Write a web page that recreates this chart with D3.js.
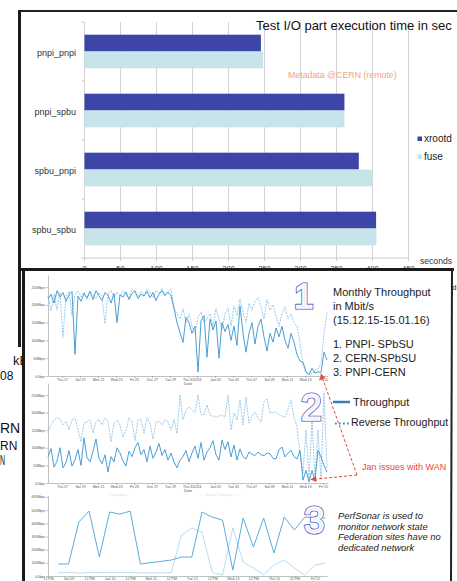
<!DOCTYPE html>
<html>
<head>
<meta charset="utf-8">
<script src="https://cdn.jsdelivr.net/npm/d3@7"></script>
<style>
body{margin:0;background:#fff}
svg{display:block;font-family:"Liberation Sans",Arial,sans-serif}
</style>
</head>
<body>
<script>
// ---------- bar chart data (seconds) ----------
const categories = ['pnpi_pnpi', 'pnpi_spbu', 'spbu_pnpi', 'spbu_spbu'];
const seriesNames = ['xrootd', 'fuse'];
const xrootdTimes = [245, 361, 381, 405];
const fuseTimes = [248, 361, 400, 405.5];
const secondTicks = [0, 50, 100, 150, 200, 250, 300, 350, 400, 450];

// ---------- monthly throughput (Mbit/s), one sample every 8 hours ----------
const pnpiSpbuThroughput = [216,230,205,240,222,235,210,228,238,61,
  225,210,232,220,238,215,240,226,212,235,228,205,232,150,
  228,222,236,215,232,240,218,230,225,238,220,235,212,230,240,226,236,225,
  190,150,122,94,165,150,120,140,11,155,170,53,160,130,155,50,150,125,145,100,
  140,86,197,120,67,120,150,90,140,160,110,70,120,95,135,110,140,100,78,120,
  95,60,42,39,12,3,22,8,12,10,67,45];
const pnpiSpbuReverse = [225,183,230,185,235,108,225,238,170,230,
  240,222,235,215,238,228,218,235,225,147,230,240,220,236,
  225,240,230,218,245,232,222,238,228,245,235,220,240,232,246,228,238,245,
  192,175,160,189,150,175,140,120,165,180,150,160,175,140,190,160,130,175,192,140,
  197,170,216,180,150,205,185,210,220,195,160,215,185,200,170,140,175,195,160,175,
  150,140,95,30,8,12,5,15,20,35,120,178];
const cernSpbuThroughput = [74,98,45,62,100,43,58,92,48,66,95,50,128,72,60,90,125,70,55,80,
  31,75,60,100,85,62,48,90,75,100,115,80,95,60,105,70,88,112,78,95,
  65,85,60,43,65,75,92,60,85,105,70,115,65,88,100,120,80,65,122,95,
  117,74,108,65,97,75,68,88,82,78,88,80,78,85,83,70,68,95,102,74,
  85,93,75,68,93,8,36,3,36,8,93,74,50,31];
const cernSpbuReverse = [142,165,179,185,182,165,175,151,179,185,151,117,170,173,179,142,173,180,165,185,
  175,117,170,179,165,130,150,185,175,120,180,180,142,185,170,125,173,175,165,180,
  175,150,180,140,250,180,207,216,207,200,250,195,193,222,193,190,187,190,193,187,
  250,151,199,179,236,165,244,170,190,202,185,173,230,240,199,200,202,195,190,187,
  210,236,187,160,85,28,151,9,179,9,151,9,256,40];
const throughputTicks = [0, 50, 100, 150, 200, 250];
const throughputLabels = ['0.0bps', '50Mbps', '100Mbps', '150Mbps', '200Mbps', '250Mbps'];

// ---------- PerfSonar PNPI-CERN (hours after 8 Jan 12:00) ----------
const perfHours = [6,12,18,24,30,36,42,48,54,72,78,84,90,96,102,108,114,120,126,132,138,144,150,162];
const perfThroughput = [91,91,409,492,144,485,470,492,91,121,144,144,485,447,424,45,440,220,440,174,447,349,447,440];
const perfReverseHours = [6,12,18,24,30,36,42,48,54,72,78,84,90,96,102,108,114,120,126,132,138,144,150,156,162];
const perfReverse = [25,28,22,27,25,28,26,27,24,25,310,364,333,25,8,364,106,60,8,83,121,60,8,83,98];
const perfTicks = [0, 100, 200, 300, 400, 500, 600];
const perfLabels = ['0.0bps', '100Mbps', '200Mbps', '300Mbps', '400Mbps', '500Mbps', '600Mbps'];

const W = 457, H = 581;
const svg = d3.select('body').append('svg').attr('width', W).attr('height', H);
svg.append('rect').attr('width', W).attr('height', H).attr('fill', '#fff');

// fragments of the slide underneath (only the visible parts)
const frag = svg.append('g').attr('fill', '#111');
frag.append('text').attr('x', 13).attr('y', 365).attr('font-size', 13).text('kB');
frag.append('text').attr('x', 0).attr('y', 380).attr('font-size', 12).text('08');
frag.append('text').attr('x', 0).attr('y', 433).attr('font-size', 14).text('RN');
frag.append('text').attr('x', 0).attr('y', 450).attr('font-size', 12).text('RN');
frag.append('text').attr('x', 0).attr('y', 465).attr('font-size', 14)
    .attr('textLength', 5).attr('lengthAdjust', 'spacingAndGlyphs').text('N');
svg.append('text').attr('x', 452.5).attr('y', 290).attr('font-size', 7).attr('fill', '#111').text('d');

// ================= bar chart =================
const xSec = d3.scaleLinear().domain([0, 450]).range([84.5, 408.5]);
const yBand = d3.scaleBand().domain(categories).range([22, 258]).paddingInner(0.43).paddingOuter(0.215);
const ySub = d3.scaleBand().domain(seriesNames).range([0, yBand.bandwidth()]);
const barColor = d3.scaleOrdinal().domain(seriesNames).range(['#3d45a6', '#c6e4ea']);

const bar = svg.append('g');
bar.selectAll('line.grid').data(secondTicks).join('line')
    .attr('x1', d => xSec(d)).attr('x2', d => xSec(d))
    .attr('y1', 22).attr('y2', 261)
    .attr('stroke', '#c8c8c8').attr('stroke-width', 0.8);
bar.append('line').attr('x1', xSec(0)).attr('x2', xSec(450)).attr('y1', 258).attr('y2', 258)
    .attr('stroke', '#bdbdbd').attr('stroke-width', 0.8);
bar.selectAll('line.ytick').data(d3.range(categories.length + 1)).join('line')
    .attr('x1', xSec(0) - 3).attr('x2', xSec(0))
    .attr('y1', i => 22 + i * yBand.step()).attr('y2', i => 22 + i * yBand.step())
    .attr('stroke', '#bdbdbd').attr('stroke-width', 0.8);

const barData = categories.flatMap((c, i) => [
    {c: c, s: 'xrootd', v: xrootdTimes[i]},
    {c: c, s: 'fuse', v: fuseTimes[i]}
]);
bar.selectAll('rect.bar').data(barData).join('rect')
    .attr('x', xSec(0))
    .attr('y', d => yBand(d.c) + ySub(d.s))
    .attr('width', d => xSec(d.v) - xSec(0))
    .attr('height', ySub.bandwidth())
    .attr('fill', d => barColor(d.s));

bar.selectAll('text.cat').data(categories).join('text')
    .attr('x', 76).attr('y', d => yBand(d) + yBand.bandwidth() / 2 + 4)
    .attr('text-anchor', 'end').attr('font-size', 9).attr('fill', '#333')
    .text(d => d);
bar.selectAll('text.sec').data(secondTicks).join('text')
    .attr('x', d => xSec(d)).attr('y', 270.5)
    .attr('text-anchor', 'middle').attr('font-size', 7.5).attr('fill', '#444')
    .text(d => d);

bar.append('text').attr('x', 256).attr('y', 30).attr('font-size', 13).attr('fill', '#111')
    .text('Test I/O part execution time in sec');
bar.append('text').attr('x', 288).attr('y', 78).attr('font-size', 8.8).attr('fill', '#f4a47c')
    .text('Metadata @CERN (remote)');
bar.append('text').attr('x', 420).attr('y', 263.5).attr('font-size', 8.6).attr('fill', '#333')
    .text('seconds');

const legend = bar.selectAll('g.leg').data(seriesNames).join('g')
    .attr('transform', (d, i) => `translate(417.5,${136.5 + i * 18})`);
legend.append('rect').attr('width', 4.5).attr('height', 4.5).attr('fill', d => barColor(d));
legend.append('text').attr('x', 6.5).attr('y', 5.5).attr('font-size', 10).attr('fill', '#222').text(d => d);

// top panel frame
svg.append('line').attr('x1', 18).attr('x2', W).attr('y1', 11).attr('y2', 11)
    .attr('stroke', '#222').attr('stroke-width', 2);
svg.append('line').attr('x1', 19.5).attr('x2', 19.5).attr('y1', 10).attr('y2', 347)
    .attr('stroke', '#1c1c1c').attr('stroke-width', 3);

// ================= bottom panel =================
const panel = svg.append('g');
panel.append('rect').attr('x', 23.5).attr('y', 269.5).attr('width', 428).attr('height', 320)
    .attr('fill', '#fff');

const solidColor = '#4a9fd5', dashColor = '#8cc5e6';

function axes(g, x, y, bottom, every, yTicks, yLabels, showDate) {
    g.append('g').attr('transform', `translate(0,${bottom})`)
        .call(d3.axisBottom(x).ticks(every).tickSize(showDate ? 2 : 1.5).tickSizeOuter(0).tickPadding(showDate ? 1 : 0.3))
        .call(a => a.attr('font-size', 3.5).attr('font-family', null))
        .call(a => a.selectAll('text').attr('fill', '#555'))
        .call(a => a.selectAll('line,path').attr('stroke', '#999').attr('stroke-width', 0.6));
    g.append('g').attr('transform', 'translate(48,0)')
        .call(d3.axisLeft(y).tickValues(yTicks).tickFormat((d, i) => yLabels[i]).tickSize(2).tickSizeOuter(0).tickPadding(1))
        .call(a => a.attr('font-size', 3.3).attr('font-family', null))
        .call(a => a.selectAll('text').attr('fill', '#555'))
        .call(a => a.selectAll('line,path').attr('stroke', '#999').attr('stroke-width', 0.6));
    if (showDate) {
        g.append('text').attr('x', 188).attr('y', bottom + 8.5).attr('text-anchor', 'middle')
            .attr('font-size', 3.8).attr('fill', '#555').text('Date');
    }
}

function throughputChart(top, bottom, solid, dashed) {
    const start = new Date(2015, 11, 15, 10, 40);
    const x = d3.scaleTime().domain([start, new Date(2016, 0, 15, 13, 20)]).range([48, 328]);
    const y = d3.scaleLinear().domain([0, 284]).range([bottom, top]);
    const t = i => d3.timeHour.offset(start, 8 * i);
    const g = panel.append('g');
    axes(g, x, y, bottom, d3.timeDay.every(2), throughputTicks, throughputLabels, true);
    const line = d3.line().x((d, i) => x(t(i))).y(d => y(d));
    g.append('path').attr('d', line(dashed)).attr('fill', 'none')
        .attr('stroke', dashColor).attr('stroke-width', 0.9).attr('stroke-dasharray', '2,1');
    g.append('path').attr('d', line(solid)).attr('fill', 'none')
        .attr('stroke', solidColor).attr('stroke-width', 1);
}

throughputChart(275, 376, pnpiSpbuThroughput, pnpiSpbuReverse);
throughputChart(383, 483, cernSpbuThroughput, cernSpbuReverse);

// chart 3 : PNPI-CERN
{
    const base = new Date(2016, 0, 8, 12);
    const x = d3.scaleTime().domain([base, new Date(2016, 0, 15, 7)]).range([48, 327]);
    const y = d3.scaleLinear().domain([0, 610]).range([576, 495.6]);
    const g = panel.append('g');
    axes(g, x, y, 576, d3.timeHour.every(12), perfTicks, perfLabels, false);
    const line = d3.line().x(d => x(d3.timeHour.offset(base, d[0]))).y(d => y(d[1]));
    g.append('path').attr('d', line(d3.zip(perfReverseHours, perfReverse))).attr('fill', 'none')
        .attr('stroke', '#b3d8ee').attr('stroke-width', 0.9);
    g.append('path').attr('d', line(d3.zip(perfHours, perfThroughput))).attr('fill', 'none')
        .attr('stroke', '#5aaddc').attr('stroke-width', 1);
    g.append('text').attr('x', 107).attr('y', 496).attr('font-size', 3).attr('fill', '#cfe2ef')
        .text('\u2014 Throughput \u2014');
    g.append('text').attr('x', 200).attr('y', 496).attr('font-size', 3).attr('fill', '#cfe2ef')
        .text('- - - Reverse Throughput - - - - - -');
}

// annotation texts
const note = panel.append('g').attr('fill', '#1a1a1a').attr('font-size', 11);
['Monthly Throughput', 'in Mbit/s', '(15.12.15-15.01.16)'].forEach((s, i) =>
    note.append('text').attr('x', 333).attr('y', 296 + i * 14).text(s));
['1. PNPI- SPbSU', '2. CERN-SPbSU', '3. PNPI-CERN'].forEach((s, i) =>
    note.append('text').attr('x', 333).attr('y', 348.3 + i * 13.7).text(s));

panel.append('line').attr('x1', 333).attr('x2', 350).attr('y1', 402).attr('y2', 402)
    .attr('stroke', '#2f7fc1').attr('stroke-width', 2.5);
note.append('text').attr('x', 353).attr('y', 405.5).text('Throughput');
panel.append('line').attr('x1', 335).attr('x2', 349).attr('y1', 423.5).attr('y2', 423.5)
    .attr('stroke', '#4a90c8').attr('stroke-width', 1.8).attr('stroke-dasharray', '1.8,2.2');
note.append('text').attr('x', 351).attr('y', 426).attr('font-size', 10.7).text('Reverse Throughput');

['PerfSonar is used to', 'monitor network state', 'Federation sites have no', 'dedicated network'].forEach((s, i) =>
    panel.append('text').attr('x', 338).attr('y', 519 + i * 10.7).attr('font-size', 9.4)
        .attr('font-style', 'italic').attr('fill', '#1a1a1a').text(s));

// red arrows
const red = '#e8473d';
svg.append('defs').append('marker').attr('id', 'ah').attr('viewBox', '0 0 10 10')
    .attr('refX', 9).attr('refY', 5).attr('markerWidth', 6).attr('markerHeight', 6)
    .attr('orient', 'auto').append('path').attr('d', 'M0,0L10,5L0,10z').attr('fill', red);
panel.append('path').attr('d', 'M357,475L321,374').attr('stroke', red).attr('stroke-width', 1)
    .attr('stroke-dasharray', '3,2').attr('fill', 'none').attr('marker-end', 'url(#ah)');
panel.append('path').attr('d', 'M357,475L311,479.5').attr('stroke', red).attr('stroke-width', 1)
    .attr('stroke-dasharray', '3,2').attr('fill', 'none').attr('marker-end', 'url(#ah)');
panel.append('text').attr('x', 362).attr('y', 470).attr('font-size', 9).attr('fill', red)
    .text('Jan issues with WAN');

// big outlined numerals
function bigNum(s, x, y, size) {
    panel.append('text').attr('x', x).attr('y', y).attr('font-size', size)
        .attr('fill', 'none').attr('stroke', '#4f56bb').attr('stroke-width', 3).text(s);
    panel.append('text').attr('x', x).attr('y', y).attr('font-size', size)
        .attr('fill', '#eceef8').attr('stroke', '#fff').attr('stroke-width', 1.4).text(s);
}
bigNum('1', 294, 308, 35);
bigNum('2', 301, 420, 37);
bigNum('3', 304, 533, 37);

// bottom panel frame
svg.append('line').attr('x1', 21).attr('x2', 454).attr('y1', 269.5).attr('y2', 269.5)
    .attr('stroke', '#1a1a1a').attr('stroke-width', 3);
svg.append('line').attr('x1', 23.5).attr('x2', 23.5).attr('y1', 268).attr('y2', H)
    .attr('stroke', '#1a1a1a').attr('stroke-width', 3);
svg.append('line').attr('x1', 452).attr('x2', 451).attr('y1', 268).attr('y2', H)
    .attr('stroke', '#222').attr('stroke-width', 2);
</script>
</body>
</html>
